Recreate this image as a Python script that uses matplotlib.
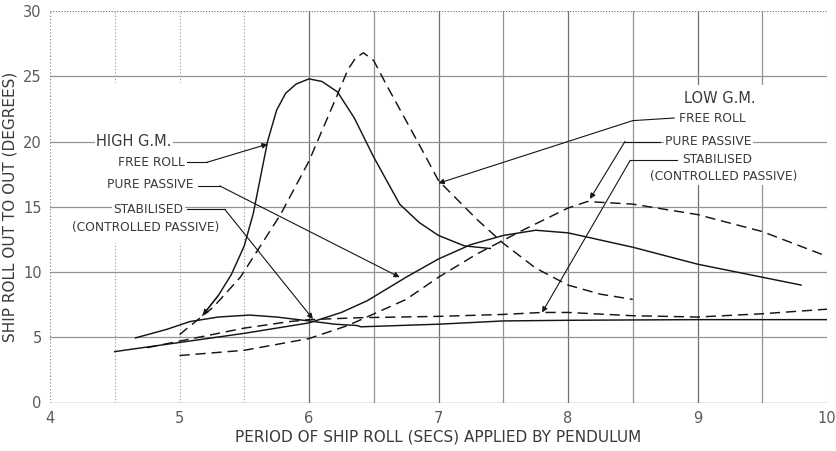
import matplotlib.pyplot as plt
from matplotlib.patches import Rectangle

# ---- high G.M. (solid lines) ----
hi_free_x = [5.18, 5.3, 5.4, 5.5, 5.57, 5.63, 5.68, 5.75, 5.82, 5.9, 6.0, 6.1, 6.22, 6.35, 6.5, 6.7, 6.85, 7.0, 7.2, 7.4]
hi_free_y = [6.7, 8.2, 9.8, 12.0, 14.5, 17.5, 20.0, 22.4, 23.7, 24.4, 24.8, 24.6, 23.8, 21.8, 18.8, 15.2, 13.8, 12.8, 12.0, 11.8]

hi_pass_x = [4.5, 5.0, 5.5, 6.0, 6.25, 6.45, 6.75, 7.0, 7.25, 7.5, 7.75, 8.0, 8.5, 9.0, 9.5, 9.8]
hi_pass_y = [3.9, 4.6, 5.3, 6.1, 6.9, 7.8, 9.6, 11.0, 12.1, 12.8, 13.2, 13.0, 11.9, 10.6, 9.6, 9.0]

hi_stab_x = [4.66, 4.9, 5.08, 5.3, 5.54, 5.75, 6.0, 6.2, 6.37, 6.4, 7.0, 7.5, 8.0, 9.0, 10.0]
hi_stab_y = [4.95, 5.6, 6.2, 6.55, 6.7, 6.55, 6.25, 6.0, 5.9, 5.8, 6.0, 6.25, 6.3, 6.35, 6.35]

# ---- low G.M. (dashed lines) ----
lo_free_x = [5.0, 5.26, 5.47, 5.78, 6.0, 6.22, 6.3, 6.36, 6.42, 6.5, 6.6, 6.86, 7.0, 7.3, 7.5, 7.75, 8.0, 8.25, 8.5]
lo_free_y = [5.2, 7.3, 9.6, 14.4, 18.5, 23.6, 25.5, 26.4, 26.8, 26.2, 24.3, 19.6, 17.0, 14.0, 12.2, 10.3, 9.0, 8.3, 7.9]

lo_pass_x = [5.0, 5.5, 6.0, 6.3, 6.75, 7.0, 7.3, 7.65, 8.0, 8.15, 8.5, 9.0, 9.5, 10.0]
lo_pass_y = [3.6, 4.0, 4.9, 5.9, 7.9, 9.6, 11.4, 13.2, 14.9, 15.4, 15.2, 14.4, 13.1, 11.2]

lo_stab_x = [4.75, 5.0, 5.5, 5.85, 6.0, 6.4, 7.0, 7.5, 7.8, 8.0, 8.5, 9.0, 9.5, 10.0]
lo_stab_y = [4.2, 4.7, 5.7, 6.2, 6.35, 6.5, 6.6, 6.75, 6.9, 6.9, 6.65, 6.55, 6.8, 7.15]

x_ticks = [4, 5, 6, 7, 8, 9, 10]
y_ticks = [0, 5, 10, 15, 20, 25, 30]

INK = '#151515'
TXT = '#3a3a3a'
GRID = '#949494'
DASH = (0, (7, 4))

fig = plt.figure(figsize=(8.36, 4.51), dpi=100)
ax = fig.add_axes([50 / 836, 48.5 / 451, 777 / 836, 391.5 / 451])
ax.set_xlim(4, 10)
ax.set_ylim(0, 30)

# grid, drawn by hand so the styles can differ line to line
for gx in [4.5, 5.0, 5.5]:
    ax.axvline(gx, color=GRID, lw=0.8, ls=(0, (1, 2)), zorder=1)
for gx in [6.5, 7.5, 8.5, 9.5]:
    ax.axvline(gx, color=GRID, lw=0.9, zorder=1)
for gx in [6, 7, 8, 9]:
    ax.axvline(gx, color='#707070', lw=0.9, zorder=1)

# blank areas behind the lettering
ax.add_patch(Rectangle((4.1, 12.2), 1.35, 12.3, facecolor='white', edgecolor='none', zorder=1.5))
ax.add_patch(Rectangle((8.58, 16.8), 1.27, 7.5, facecolor='white', edgecolor='none', zorder=1.5))

for gy in [5, 10, 15, 20, 25]:
    ax.axhline(gy, color=GRID, lw=0.9, zorder=2)

# frame
ax.axhline(0, color='#555555', lw=0.9, zorder=2)
ax.axhline(30, color='#666666', lw=0.8, ls=(0, (1, 1.5)), zorder=2)
ax.axvline(4, color='#777777', lw=0.8, ls=(0, (1, 2)), zorder=2)
ax.axvline(10, color='#999999', lw=0.8, ls=(0, (2, 2)), zorder=2)
for s in ax.spines.values():
    s.set_visible(False)

# curves
ax.plot(hi_free_x, hi_free_y, color=INK, lw=1.05, zorder=3)
ax.plot(hi_pass_x, hi_pass_y, color=INK, lw=1.05, zorder=3)
ax.plot(hi_stab_x, hi_stab_y, color=INK, lw=1.05, zorder=3)
ax.plot(lo_free_x, lo_free_y, color=INK, lw=1.05, ls=DASH, zorder=3)
ax.plot(lo_pass_x, lo_pass_y, color=INK, lw=1.05, ls=DASH, zorder=3)
ax.plot(lo_stab_x, lo_stab_y, color=INK, lw=1.05, ls=DASH, zorder=3)

arrow = dict(arrowstyle='-|>', color=INK, lw=0.8, mutation_scale=8, shrinkA=0, shrinkB=0)
ax.annotate('', xy=(hi_free_x[0], hi_free_y[0]), xytext=(hi_free_x[1], hi_free_y[1]), arrowprops=arrow, zorder=3)


def leader(knee, start, tip):
    ax.plot([start[0], knee[0]], [start[1], knee[1]], color=INK, lw=0.8, zorder=3)
    ax.annotate('', xy=tip, xytext=knee, arrowprops=arrow, zorder=3)


box = dict(facecolor='white', edgecolor='none', pad=1.0)
lab = dict(fontsize=8.8, color=TXT, va='center', bbox=box, zorder=4)
head = dict(fontsize=10.5, color=TXT, va='center', ha='center', bbox=box, zorder=4)

# high G.M. labels
ax.text(4.65, 20.0, 'HIGH G.M.', **head)
ax.text(5.04, 18.4, 'FREE ROLL', ha='right', **lab)
ax.text(5.11, 16.7, 'PURE PASSIVE', ha='right', **lab)
ax.text(5.03, 14.8, 'STABILISED', ha='right', **lab)
ax.text(4.74, 13.4, '(CONTROLLED PASSIVE)', ha='center', **lab)
leader((5.21, 18.4), (5.06, 18.4), (5.68, 19.8))
leader((5.31, 16.6), (5.14, 16.6), (6.7, 9.6))
leader((5.35, 14.8), (5.06, 14.8), (6.03, 6.4))

# low G.M. labels
ax.text(9.17, 23.3, 'LOW G.M.', **head)
ax.text(8.86, 21.8, 'FREE ROLL', ha='left', **lab)
ax.text(8.75, 20.0, 'PURE PASSIVE', ha='left', **lab)
ax.text(8.88, 18.6, 'STABILISED', ha='left', **lab)
ax.text(9.2, 17.3, '(CONTROLLED PASSIVE)', ha='center', **lab)
leader((8.5, 21.6), (8.82, 21.8), (7.0, 16.8))
leader((8.44, 20.0), (8.71, 20.0), (8.17, 15.6))
leader((8.48, 18.55), (8.84, 18.55), (7.8, 6.9))

ax.set_xticks(x_ticks)
ax.set_yticks(y_ticks)
ax.tick_params(length=0, labelsize=10.5, labelcolor='#5a5a5a', pad=6)
ax.set_xlabel('PERIOD OF SHIP ROLL (SECS) APPLIED BY PENDULUM', fontsize=11, color=TXT, labelpad=3)
ax.set_ylabel('SHIP ROLL OUT TO OUT (DEGREES)', fontsize=11, color=TXT, labelpad=4)

fig.savefig('out.png', dpi=100)
